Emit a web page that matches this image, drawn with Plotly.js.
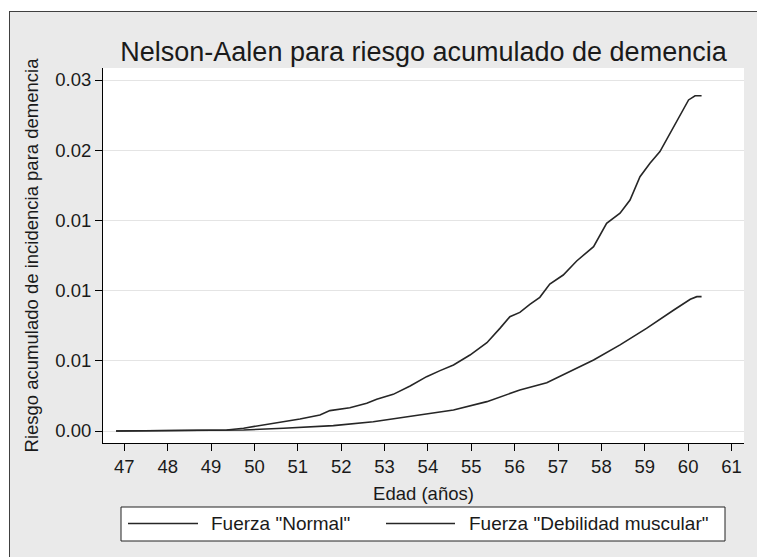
<!DOCTYPE html>
<html>
<head>
<meta charset="utf-8">
<script src="https://cdn.plot.ly/plotly-3.0.1.min.js"></script>
<style>
  html, body { margin: 0; padding: 0; background: #ffffff; overflow: hidden; }
  #frame { position: absolute; left: 9px; top: 11px; width: 760px; height: 560px;
           background: #eaeaea; border: 1px solid #404040; }
  #chart { position: absolute; left: 0; top: 0; width: 757px; height: 557px; }
</style>
</head>
<body>
<div id="frame"></div>
<div id="chart"></div>
<script>
// Nelson-Aalen cumulative hazard of dementia by age, two grip-strength groups
const ageNormal = [46.81, 49.0, 49.75, 50.67, 51.82, 52.74, 53.82, 54.59, 55.36, 56.12,
                   56.74, 57.2, 57.82, 58.43, 59.04, 59.67, 60.05, 60.2, 60.31];
const riskNormal = [0, 0.00002, 0.00007, 0.0002, 0.00038, 0.00066, 0.00114, 0.0015, 0.00209, 0.00292,
                    0.00344, 0.00411, 0.00506, 0.00613, 0.00731, 0.00862, 0.00938, 0.00957, 0.00957];

const ageDebilidad = [46.81, 49.0, 49.36, 49.75, 50.13, 50.59, 51.05, 51.51, 51.74, 52.2,
                      52.59, 52.82, 53.2, 53.59, 53.97, 54.28, 54.59, 54.97, 55.36, 55.66,
                      55.89, 56.12, 56.35, 56.58, 56.81, 57.12, 57.43, 57.82, 58.12, 58.43,
                      58.66, 58.89, 59.12, 59.35, 59.58, 59.81, 60.01, 60.16, 60.31];
const riskDebilidad = [0, 0.00002, 0.00007, 0.0002, 0.00038, 0.00059, 0.00085, 0.00114, 0.00145, 0.00166,
                       0.00197, 0.00226, 0.00261, 0.00321, 0.00387, 0.0043, 0.0047, 0.00541, 0.00629, 0.00731,
                       0.00814, 0.00845, 0.00902, 0.00952, 0.01047, 0.01111, 0.01211, 0.01313, 0.01479, 0.01551,
                       0.01645, 0.01811, 0.01907, 0.0199, 0.0212, 0.02251, 0.02358, 0.02388, 0.02388];

const ageTicks = [47, 48, 49, 50, 51, 52, 53, 54, 55, 56, 57, 58, 59, 60, 61];
const riskTicks = [0, 0.005, 0.01, 0.015, 0.02, 0.025];
const riskTickText = ["0.00", "0.01", "0.01", "0.01", "0.02", "0.03"];

const seriesNames = ['Fuerza "Normal"', 'Fuerza "Debilidad muscular"'];

const lineStyle = { color: '#262626', width: 1.6 };

const traces = [
  { x: ageNormal, y: riskNormal, name: seriesNames[0], type: 'scatter', mode: 'lines', line: lineStyle },
  { x: ageDebilidad, y: riskDebilidad, name: seriesNames[1], type: 'scatter', mode: 'lines', line: lineStyle }
];

// Plot-area geometry (pixels) used to place the boxed key below the axis
const M = { l: 103, r: 13, t: 68, b: 114 };
const W = 757, H = 557;
const plotW = W - M.l - M.r, plotH = H - M.t - M.b;
const px = v => (v - M.l) / plotW;
const py = v => (H - M.b - v) / plotH;

const key = { left: 121, right: 725, top: 507, bottom: 541, mid: 523.5,
              items: [{ line: [128, 198], text: 209 }, { line: [386, 455], text: 467 }] };

const shapes = [{
  type: 'rect', xref: 'paper', yref: 'paper',
  x0: px(key.left), x1: px(key.right), y0: py(key.bottom), y1: py(key.top),
  fillcolor: '#ffffff', line: { color: '#222222', width: 1 }
}];
const annotations = [];
key.items.forEach((it, i) => {
  shapes.push({
    type: 'line', xref: 'paper', yref: 'paper',
    x0: px(it.line[0]), x1: px(it.line[1]), y0: py(key.mid), y1: py(key.mid),
    line: { color: traces[i].line.color, width: traces[i].line.width }
  });
  annotations.push({
    xref: 'paper', yref: 'paper', x: px(it.text), y: py(key.mid),
    xanchor: 'left', yanchor: 'middle', showarrow: false,
    text: seriesNames[i], font: { size: 19, color: '#1a1a1a' }
  });
});

const layout = {
  width: W, height: H,
  paper_bgcolor: 'rgba(0,0,0,0)',
  plot_bgcolor: '#ffffff',
  margin: { l: M.l, r: M.r, t: M.t, b: M.b, pad: 0 },
  font: { family: '"Liberation Sans", Arial, sans-serif', color: '#1a1a1a', size: 18.5 },
  title: {
    text: 'Nelson-Aalen para riesgo acumulado de demencia',
    font: { size: 27, color: '#1a1a1a' },
    x: 0.5, xref: 'paper', xanchor: 'center',
    y: 1 - 52 / H, yref: 'container', yanchor: 'middle'
  },
  xaxis: {
    range: [46.509, 61.288],
    tickmode: 'array', tickvals: ageTicks,
    ticks: 'outside', ticklen: 7, tickwidth: 1, tickcolor: '#000',
    showline: true, linecolor: '#000', linewidth: 1,
    showgrid: false, zeroline: false,
    title: { text: 'Edad (años)', font: { size: 18.5 }, standoff: 10 }
  },
  yaxis: {
    range: [-0.000855, 0.025855],
    tickmode: 'array', tickvals: riskTicks, ticktext: riskTickText,
    ticks: 'outside', ticklen: 7, tickwidth: 1, tickcolor: '#000',
    showline: true, linecolor: '#000', linewidth: 1,
    showgrid: true, gridcolor: '#e4e4e4', gridwidth: 1, zeroline: false,
    title: { text: 'Riesgo acumulado de incidencia para demencia', font: { size: 18.5 }, standoff: 11 }
  },
  showlegend: false,
  shapes: shapes,
  annotations: annotations
};

Plotly.newPlot('chart', traces, layout, { displayModeBar: false, staticPlot: true });
</script>
</body>
</html>
